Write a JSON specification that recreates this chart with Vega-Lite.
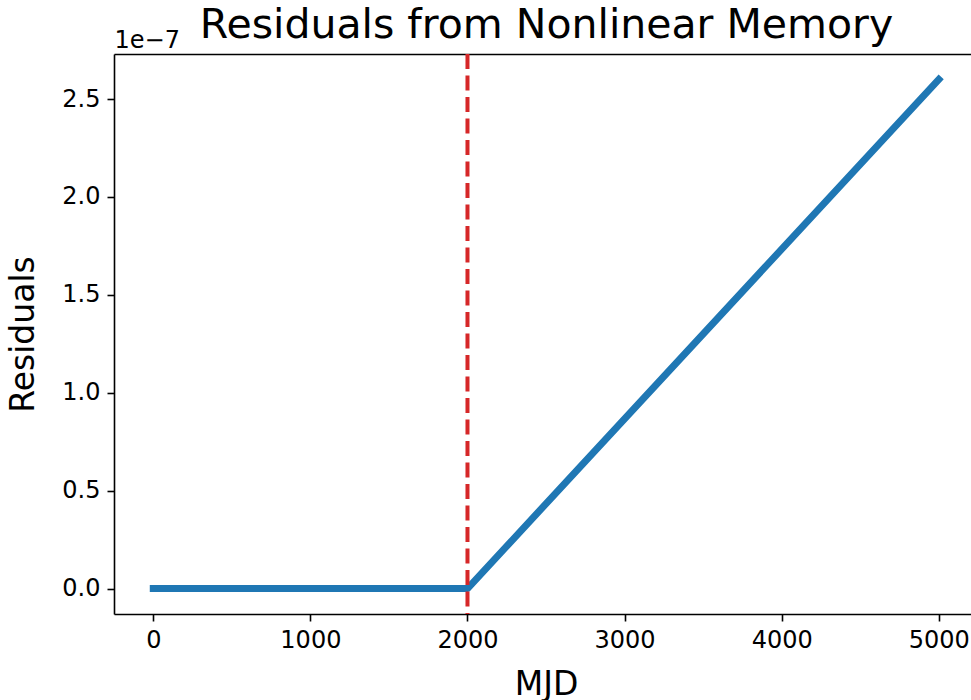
{
  "$schema": "https://vega.github.io/schema/vega-lite/v6.json",
  "autosize": {"type": "none"},
  "width": 857,
  "height": 560,
  "padding": {"left": 114, "top": 54, "right": 0, "bottom": 86},
  "background": "white",
  "title": {
    "text": "Residuals from Nonlinear Memory",
    "font": "DejaVu Sans",
    "fontSize": 41,
    "fontWeight": "normal",
    "color": "black",
    "anchor": "middle",
    "frame": "group",
    "baseline": "alphabetic",
    "offset": 17,
    "dx": 4,
    "dy": 68
  },
  "datasets": {
    "residuals": [
      {"mjd": 0, "residual": 0},
      {"mjd": 2000, "residual": 0},
      {"mjd": 5000, "residual": 2.6e-7}
    ],
    "changepoint": [
      {"mjd": 2000}
    ]
  },
  "config": {
    "font": "DejaVu Sans",
    "view": {"stroke": null},
    "axis": {
      "grid": false,
      "domainColor": "black",
      "domainWidth": 1.6,
      "tickColor": "black",
      "tickWidth": 1.6,
      "tickSize": 7,
      "labelColor": "black",
      "labelFont": "DejaVu Sans",
      "labelFontSize": 24,
      "labelPadding": 7,
      "titleColor": "black",
      "titleFont": "DejaVu Sans",
      "titleFontWeight": "normal"
    }
  },
  "resolve": {"axis": {"x": "independent"}},
  "layer": [
    {
      "data": {"name": "residuals"},
      "mark": {"type": "line", "color": "#1f77b4", "strokeWidth": 7, "strokeCap": "square", "strokeJoin": "round"},
      "encoding": {
        "x": {
          "field": "mjd",
          "type": "quantitative",
          "scale": {"domain": [-250, 5205], "nice": false, "zero": false},
          "axis": {
            "orient": "bottom",
            "title": "MJD",
            "titleFontSize": 33,
            "titleX": 432,
            "titleY": 80,
            "titleBaseline": "alphabetic",
            "values": [0, 1000, 2000, 3000, 4000, 5000],
            "format": "d",
            "labelFlush": false,
            "labelOverlap": false
          }
        },
        "y": {
          "field": "residual",
          "type": "quantitative",
          "scale": {"domain": [-1.3e-8, 2.73e-7], "nice": false, "zero": false},
          "axis": {
            "title": "Residuals",
            "titleFontSize": 33,
            "titleAngle": -90,
            "titleX": -81,
            "titleY": 280,
            "titleAlign": "center",
            "titleBaseline": "alphabetic",
            "values": [0, 5e-8, 1e-7, 1.5e-7, 2e-7, 2.5e-7],
            "labelExpr": "format(datum.value * 1e7, '.1f')",
            "labelFlush": false,
            "labelOverlap": false
          }
        }
      }
    },
    {
      "data": {"name": "changepoint"},
      "mark": {"type": "rule", "color": "#d62728", "strokeWidth": 4, "strokeDash": [15, 6.5]},
      "encoding": {
        "x": {
          "field": "mjd",
          "type": "quantitative",
          "axis": {
            "orient": "top",
            "title": "1e−7",
            "titleFontSize": 24,
            "titleAngle": 0,
            "titleX": 0,
            "titleY": -7,
            "titleAlign": "left",
            "titleBaseline": "alphabetic",
            "labels": false,
            "ticks": false
          }
        }
      }
    }
  ]
}
